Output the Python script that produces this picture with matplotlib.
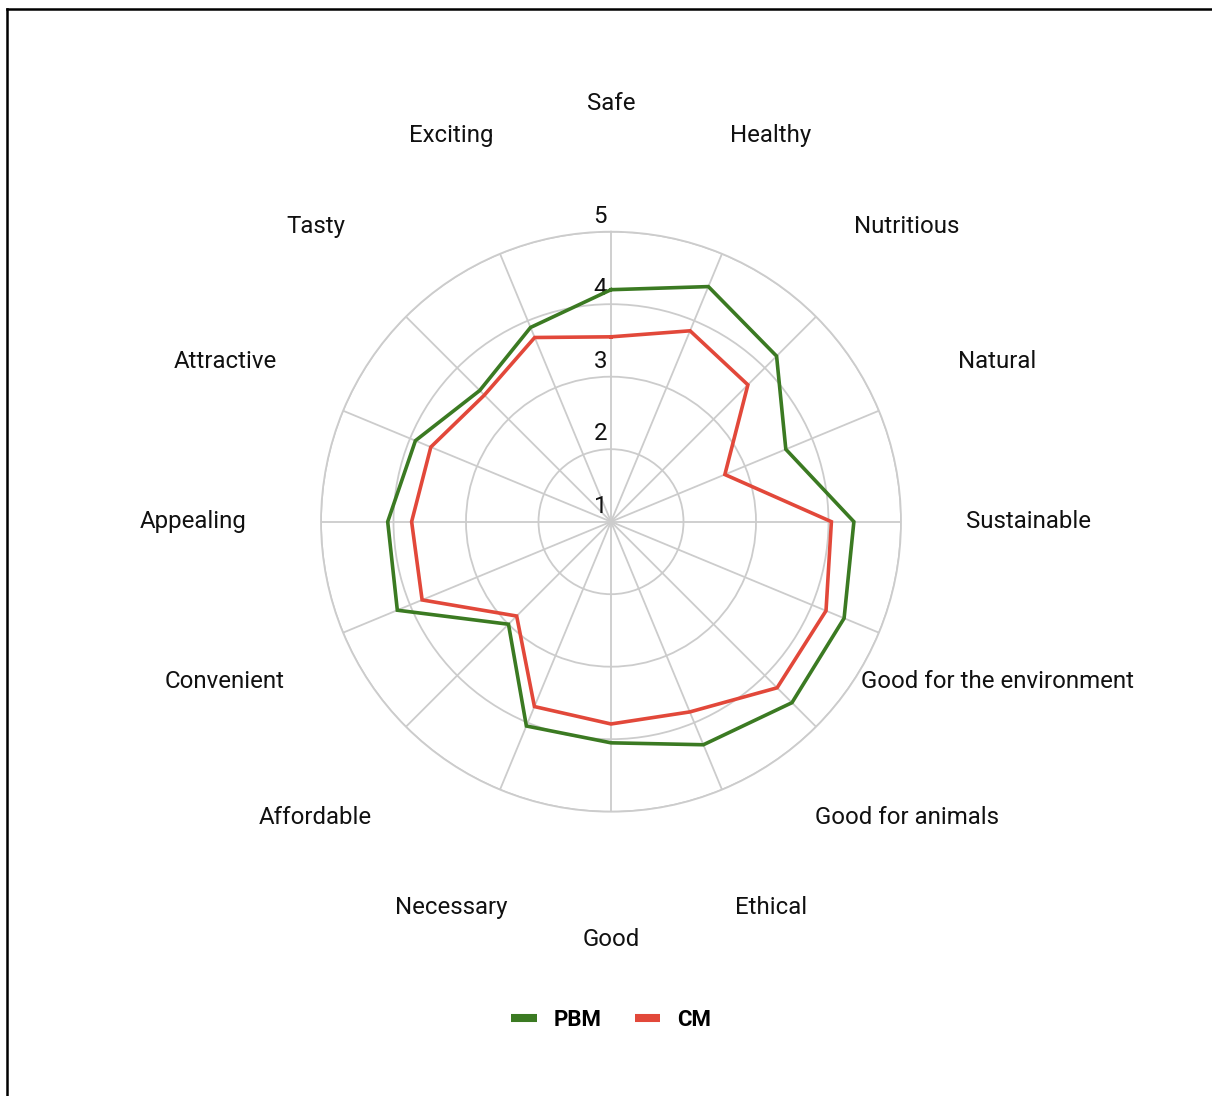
import numpy as np
import matplotlib
matplotlib.use("Agg")
import matplotlib.pyplot as plt
from matplotlib.lines import Line2D
from matplotlib import transforms

plt.rcParams['font.family'] = ['Roboto', 'DejaVu Sans']

# Attributes, clockwise from the top
categories = ["Safe", "Healthy", "Nutritious", "Natural", "Sustainable",
              "Good for the environment", "Good for animals", "Ethical", "Good",
              "Necessary", "Affordable", "Convenient", "Appealing", "Attractive",
              "Tasty", "Exciting"]

pbm = [4.20, 4.51, 4.23, 3.61, 4.35, 4.48, 4.53, 4.33, 4.05,
       4.05, 3.00, 4.19, 4.08, 3.92, 3.56, 3.90]
cm = [3.55, 3.85, 3.67, 2.70, 4.04, 4.21, 4.24, 3.84, 3.79,
      3.76, 2.84, 3.82, 3.75, 3.69, 3.47, 3.75]

r_ticks = [1, 2, 3, 4, 5]
series_names = ["PBM", "CM"]
series_colors = ["#3b7a22", "#e2483a"]

W, H, DPI = 1212, 1096, 100
fig = plt.figure(figsize=(W / DPI, H / DPI), dpi=DPI)
fig.patch.set_facecolor("white")

# polar axes: centre and outer ring radius in pixels
cx, cy, R = 611, 521.7, 290
ax = fig.add_axes([(cx - R) / W, (H - cy - R) / H, 2 * R / W, 2 * R / H],
                  projection="polar")
ax.set_theta_zero_location("N")
ax.set_theta_direction(-1)
ax.set_ylim(r_ticks[0], r_ticks[-1])

n = len(categories)
angles = np.linspace(0, 2 * np.pi, n, endpoint=False)

grid_color = "#cccccc"
ax.set_xticks(angles)
ax.set_xticklabels([])
ax.set_yticks(r_ticks)
ax.set_yticklabels([])
ax.grid(True, color=grid_color, linewidth=1.3)
ax.spines["polar"].set_color(grid_color)
ax.spines["polar"].set_linewidth(1.3)
ax.tick_params(length=0)

# series outlines
closed = np.append(angles, angles[0])
for name, vals, col in zip(series_names, [pbm, cm], series_colors):
    v = np.append(vals, vals[0])
    ax.plot(closed, v, color=col, linewidth=2.6, solid_joinstyle="miter",
            zorder=5, label=name)

# radial value labels along the upward spoke
off = transforms.offset_copy(ax.transData, fig=fig, x=-4, y=4, units="dots")
for r in r_ticks:
    ax.text(0, r, str(r), transform=off, ha="right", va="bottom",
            fontsize=17.3, color="#111111", zorder=2)

# category labels around the outside
label_r = 1 + 418 / 72.5
for ang, lab in zip(angles, categories):
    ax.text(ang, label_r, lab, ha="center", va="center", fontsize=17.3,
            color="#111111", clip_on=False)

# legend
handles = [Line2D([0], [0], color=c, linewidth=5.8, solid_capstyle="butt")
           for c in series_colors]
leg = fig.legend(handles, series_names, loc="center",
                 bbox_to_anchor=(cx / W, (H - 1020) / H), ncol=2,
                 frameon=False, handlelength=1.15, handletextpad=0.75,
                 columnspacing=1.5, prop={"size": 16, "weight": "bold"})

# frame edges along the top and left
fig.add_artist(Line2D([7 / W, 7 / W], [0, (H - 9) / H], color="black",
                      linewidth=1.8, transform=fig.transFigure))
fig.add_artist(Line2D([7 / W, 1], [(H - 9) / H, (H - 9) / H], color="black",
                      linewidth=1.8, transform=fig.transFigure))

fig.savefig("out.png", dpi=DPI, facecolor="white")
